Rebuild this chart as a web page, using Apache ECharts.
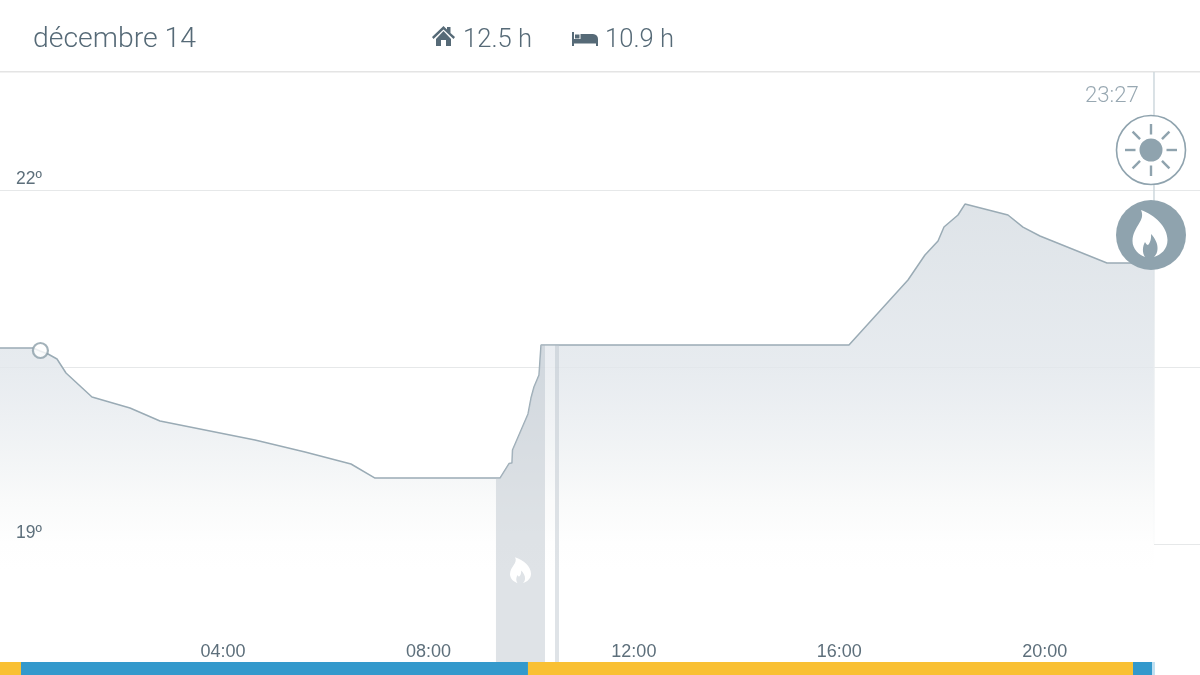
<!DOCTYPE html>
<html>
<head>
<meta charset="utf-8">
<style>html,body{margin:0;padding:0;background:#fff}#c{width:1200px;height:675px}</style>
<script src="https://cdn.jsdelivr.net/npm/echarts@6/dist/echarts.min.js"></script>
</head>
<body>
<div id="c"></div>
<script>
var dateLabel = 'décembre 14';
var homeLabel = '12.5 h';
var sleepLabel = '10.9 h';
var nowLabel = '23:27';
var xTicks = [4, 8, 12, 16, 20];
var yGrid = [19, 20.5, 22];
var yLabels = [19, 22];
var nowHour = 22.127;
var markerPoint = [[0.445, 20.64]];
var curveHours = [-0.342,0.30,0.437,0.593,0.768,0.943,1.449,2.189,2.773,4.623,5.597,6.492,6.96,9.393,9.569,9.627,9.637,9.939,9.997,10.055,10.153,10.192,16.188,17.337,17.668,17.922,18.038,18.311,18.447,19.284,19.576,19.907,21.212,22.127];
var curveTemps = [20.661,20.661,20.636,20.61,20.568,20.449,20.246,20.153,20.042,19.881,19.78,19.678,19.559,19.559,19.682,19.686,19.797,20.102,20.237,20.331,20.432,20.686,20.686,21.237,21.449,21.568,21.686,21.788,21.881,21.788,21.686,21.61,21.381,21.381];
var heatStarts = [9.315, 10.464];
var heatEnds = [10.27, 10.542];
var heatStartTemps = [19.559, 20.686];
var heatEndTemps = [20.686, 20.686];
var gapHours = [10.27, 10.464];
var gapTemps = [20.686, 20.686];
var modeStarts = [-0.342, 0.067, 9.938, 21.718, 22.088];
var modeEnds = [0.067, 9.938, 21.718, 22.088, 22.146];
var modeColors = ['#f9c033', '#3399cc', '#f9c033', '#3399cc', '#bfdff1'];

var curve = curveHours.map(function (h, i) { return [h, curveTemps[i]]; });
function bandData(i) {
  var inner = curve.filter(function (p) { return p[0] > heatStarts[i] && p[0] < heatEnds[i]; });
  return [[heatStarts[i], heatStartTemps[i]]].concat(inner, [[heatEnds[i], heatEndTemps[i]]]);
}
var FLAME = 'M-9 -24C-4 -13 -17 -8 -17.5 7C-17.5 15 -11 21 -5 23C-8 19 -7.5 12 -5 8C-4 10 -3 11 -2 11C0 9 1.5 5 1 0C5 4 8 10 7.5 15C7.5 18 6 21 4 23C11 21 17.5 15 17.5 6C17.5 -7 5 -19 -9 -24Z';
var HOUSE = 'M432 37L443.5 26L447 29.5V27H450.5V33L455 37L453.5 39L443.5 29.5L433.5 39ZM436 39L443.5 31L451 39V46H446V40H441V46H436Z';
var BED = 'M572 32H574V39H598V46H596V43.5H574V46H572ZM580.5 34H593C596 34.5 598 36 598 39H580.5ZM575 34.5H579.5V38.5H575Z';
echarts.graphic.registerShape('flameIcon', echarts.graphic.extendPath(FLAME, {}));
echarts.graphic.registerShape('houseIcon', echarts.graphic.extendPath(HOUSE, {}));
echarts.graphic.registerShape('bedIcon', echarts.graphic.extendPath(BED, {}));
var C = '#8fa3ae', TXT = '#566a77';
var rays = [];
for (var a = 0; a < 8; a++) {
  var t = a * Math.PI / 4;
  rays.push({type:'line', z:10, silent:true,
    shape:{x1:1151+15.5*Math.cos(t), y1:150+15.5*Math.sin(t), x2:1151+26*Math.cos(t), y2:150+26*Math.sin(t)},
    style:{stroke:C, lineWidth:2.4}});
}
var headFont = '300 28.4px Roboto, "Liberation Sans", sans-serif';
var subFont = '300 25.6px Roboto, "Liberation Sans", sans-serif';
var graphics = [
  {type:'text', z:10, x:33, y:26, style:{text:dateLabel, fill:TXT, font:headFont}},
  {type:'text', z:10, x:463, y:27.5, style:{text:homeLabel, fill:TXT, font:subFont}},
  {type:'text', z:10, x:605, y:27.5, style:{text:sleepLabel, fill:TXT, font:subFont}},
  {type:'text', z:10, x:1085, y:85, style:{text:nowLabel, fill:'#98a8b2', font:'300 22.2px Roboto, "Liberation Sans", sans-serif'}},
  {type:'houseIcon', z:10, silent:true, style:{fill:TXT}},
  {type:'bedIcon', z:10, silent:true, style:{fill:TXT}},
  {type:'rect', z:0, silent:true, shape:{x:0,y:71,width:1200,height:1.6}, style:{fill:'#e4e4e4'}},
  {type:'circle', z:9, silent:true, shape:{cx:1151,cy:150,r:34.5}, style:{fill:'#fff', stroke:C, lineWidth:1.6}},
  {type:'circle', z:10, silent:true, shape:{cx:1151,cy:150,r:11.5}, style:{fill:C}},
  {type:'circle', z:9, silent:true, shape:{cx:1151,cy:235,r:35}, style:{fill:C}},
  {type:'flameIcon', z:10, silent:true, x:1150, y:234, style:{fill:'#fff'}},
  {type:'flameIcon', z:10, silent:true, x:520.5, y:570.5, scaleX:0.6, scaleY:0.55, style:{fill:'#fff'}}
].concat(rays);

var series = [
  {type:'line', name:'temp', data:curve, symbol:'none', z:3,
   lineStyle:{color:'#9aabb5', width:1.5},
   areaStyle:{origin:'start', opacity:1, color:{type:'linear',x:0,y:0,x2:0,y2:1,colorStops:[
     {offset:0, color:'rgba(212,219,225,0.76)'},
     {offset:0.36, color:'rgba(226,231,236,0.82)'},
     {offset:0.65, color:'rgba(249,250,250,0.96)'},
     {offset:0.74, color:'rgba(254,254,254,1)'},
     {offset:0.8, color:'rgba(255,255,255,1)'},
     {offset:1, color:'rgba(255,255,255,1)'}]}}},
  {type:'line', name:'now', data:[[nowHour,23],[nowHour,curveTemps[curveTemps.length-1]]], symbol:'none', z:4,
   lineStyle:{color:'#cbd5db', width:1.4}},
  {type:'line', name:'edge', data:[[nowHour,curveTemps[curveTemps.length-1]],[nowHour,19]], symbol:'none', z:4,
   lineStyle:{width:1.4, color:{type:'linear',x:0,y:0,x2:0,y2:1,colorStops:[
     {offset:0, color:'#dde3e7'},{offset:1, color:'#fbfcfc'}]}}},
  {type:'line', name:'gap', data:gapHours.map(function (h, i) { return [h, gapTemps[i]]; }), symbol:'none', z:4,
   lineStyle:{width:0}, areaStyle:{origin:'start', opacity:1, color:'rgba(255,255,255,0.18)'}},
  {type:'scatter', name:'marker', data:markerPoint, symbol:'circle', symbolSize:15, z:6,
   itemStyle:{color:'#fff', borderColor:'#8c9fa9', borderWidth:2.2}},
  {type:'custom', name:'modes', xAxisIndex:1, yAxisIndex:2, z:7,
   data:modeStarts.map(function (s, i) { return [s, modeEnds[i], i]; }),
   renderItem:function (params, api) {
     var a = api.coord([api.value(0), 0]), b = api.coord([api.value(1), 1]);
     return {type:'rect', shape:{x:a[0], y:b[1], width:b[0]-a[0], height:a[1]-b[1]},
       style:{fill:modeColors[api.value(2)]}};
   }}
];
heatStarts.forEach(function (s, i) {
  series.push({type:'line', name:'heat'+i, data:bandData(i), symbol:'none', z:4,
    lineStyle:{width:0},
    areaStyle:{origin:'start', opacity:1, color:'rgba(188,197,205,0.48)'}});
});

var chart = echarts.init(document.getElementById('c'), null, {renderer:'canvas'});
chart.setOption({
  animation:false,
  backgroundColor:'#fff',
  tooltip:{show:false},
  graphic:{elements:graphics},
  grid:[
    {left:0, right:0, top:72, height:590},
    {left:0, right:0, top:662, height:13}
  ],
  xAxis:[
    {type:'value', gridIndex:0, min:-0.342, max:23.023, z:8,
     axisLine:{show:false}, axisTick:{show:false, customValues:xTicks}, splitLine:{show:false},
     axisLabel:{inside:true, margin:1, customValues:xTicks, color:'#5d6f7b', fontSize:18,
       fontFamily:'"Liberation Sans", sans-serif',
       formatter:function (v) { return (v<10?'0':'')+v+':00'; }}},
    {type:'value', gridIndex:1, min:-0.342, max:23.023, show:false}
  ],
  yAxis:[
    {type:'value', gridIndex:0, min:18, max:23, z:1,
     axisLine:{show:false}, axisTick:{show:false, customValues:yGrid},
     splitLine:{show:true, lineStyle:{color:'#e6e8e9', width:1.2}},
     axisLabel:{show:false}},
    {type:'value', gridIndex:0, min:18, max:23, z:8, position:'left',
     axisLine:{show:false}, axisTick:{show:false, customValues:yLabels}, splitLine:{show:false},
     axisLabel:{inside:true, margin:16, customValues:yLabels, color:'#5d6f7b', fontSize:17.5,
       fontFamily:'"Liberation Sans", sans-serif', verticalAlign:'bottom', padding:[0,0,2,0],
       formatter:function (v) { return v+'º'; }}},
    {type:'value', gridIndex:1, min:0, max:1, show:false}
  ],
  series:series
});
</script>
</body>
</html>
